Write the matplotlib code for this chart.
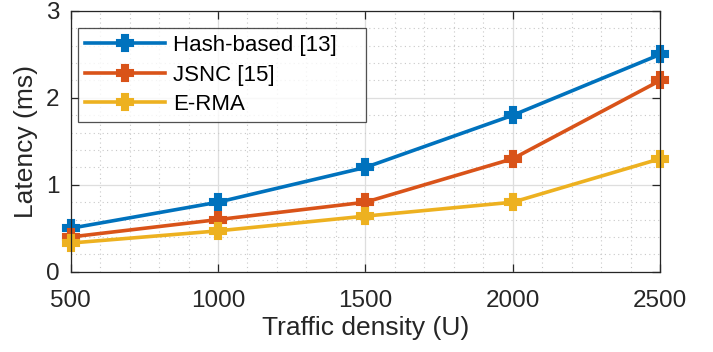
import matplotlib.pyplot as plt
from matplotlib.ticker import MultipleLocator

plt.rcParams["font.family"] = ["Liberation Sans", "DejaVu Sans"]

# Data
density = [500, 1000, 1500, 2000, 2500]
hash_based = [0.50, 0.80, 1.20, 1.80, 2.50]
jsnc = [0.40, 0.60, 0.80, 1.30, 2.20]
erma = [0.33, 0.47, 0.64, 0.80, 1.30]

series = [
    ("Hash-based [13]", hash_based, "#0072BD"),
    ("JSNC [15]", jsnc, "#D95319"),
    ("E-RMA", erma, "#EDB120"),
]

axis_col = "#262626"

fig = plt.figure(figsize=(7.13, 3.52), dpi=100)
ax = fig.add_axes([0.099, 0.228, 0.827, 0.741])

for name, vals, col in series:
    ax.plot(density, vals, color=col, linewidth=2.6, marker="P",
            markersize=12, markeredgewidth=1.5, label=name, clip_on=False)

ax.set_xlim(500, 2500)
ax.set_ylim(0, 3)
ax.xaxis.set_major_locator(MultipleLocator(500))
ax.xaxis.set_minor_locator(MultipleLocator(100))
ax.yaxis.set_major_locator(MultipleLocator(1))
ax.yaxis.set_minor_locator(MultipleLocator(0.2))

ax.grid(which="major", color="#dedede", linewidth=0.9)
ax.grid(which="minor", color="#c8c8c8", linestyle=(0, (1, 3)), linewidth=0.8)
ax.set_axisbelow(True)

ax.tick_params(which="major", direction="in", length=6, width=0.9,
               colors=axis_col, labelsize=17.5, top=True, right=True)
ax.tick_params(axis="x", which="major", pad=13)
ax.tick_params(axis="y", which="major", pad=8)
ax.tick_params(which="minor", length=0, top=True, right=True)
for sp in ax.spines.values():
    sp.set_color(axis_col)
    sp.set_linewidth(0.9)

ax.set_xlabel("Traffic density (U)", fontsize=19, color=axis_col, labelpad=3)
ax.set_ylabel("Latency (ms)", fontsize=19, color=axis_col, labelpad=6)

leg = ax.legend(loc="upper left", bbox_to_anchor=(0.0125, 0.934, 0.4885, 0.0),
                mode="expand", fontsize=16, frameon=True, fancybox=False,
                handlelength=3.6, borderaxespad=0.0, labelspacing=0.38,
                borderpad=0.32, handletextpad=0.35)
leg.get_frame().set_edgecolor(axis_col)
leg.get_frame().set_linewidth(0.9)

fig.savefig("out.png", dpi=100)
